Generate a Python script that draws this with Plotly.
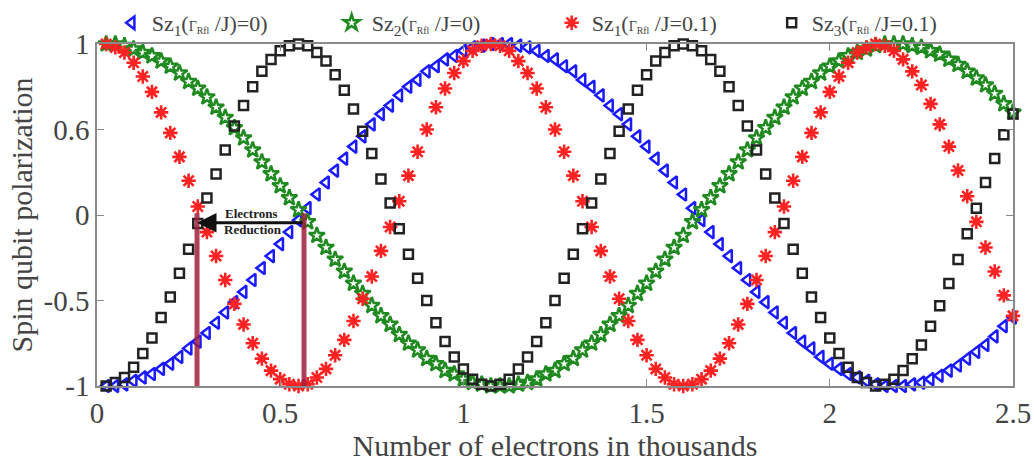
import plotly.graph_objects as go

# Number of electrons (thousands)
x_vals = [round(0.025 * k, 3) for k in range(1, 101)]

sz1_g0 = [-1.00, -1.00, -0.99, -0.97, -0.95, -0.93, -0.90, -0.87, -0.83, -0.78,
          -0.74, -0.69, -0.63, -0.57, -0.51, -0.45, -0.38, -0.31, -0.24, -0.17,
          -0.10, -0.03, 0.04, 0.12, 0.19, 0.26, 0.33, 0.40, 0.46, 0.53,
          0.59, 0.64, 0.70, 0.75, 0.79, 0.84, 0.87, 0.91, 0.93, 0.96,
          0.98, 0.99, 1.00, 1.00, 1.00, 0.99, 0.98, 0.96, 0.93, 0.91,
          0.87, 0.84, 0.79, 0.75, 0.70, 0.64, 0.59, 0.53, 0.46, 0.40,
          0.33, 0.26, 0.19, 0.12, 0.04, -0.03, -0.10, -0.17, -0.24, -0.31,
          -0.38, -0.45, -0.51, -0.57, -0.63, -0.69, -0.74, -0.78, -0.83, -0.87,
          -0.90, -0.93, -0.95, -0.97, -0.99, -1.00, -1.00, -1.00, -0.99, -0.98,
          -0.96, -0.94, -0.91, -0.88, -0.84, -0.80, -0.76, -0.71, -0.65, -0.60]

sz2_g0 = [1.00, 1.00, 0.99, 0.97, 0.95, 0.93, 0.90, 0.87, 0.83, 0.78,
          0.74, 0.69, 0.63, 0.57, 0.51, 0.45, 0.38, 0.31, 0.24, 0.17,
          0.10, 0.03, -0.04, -0.12, -0.19, -0.26, -0.33, -0.40, -0.46, -0.53,
          -0.59, -0.64, -0.70, -0.75, -0.79, -0.84, -0.87, -0.91, -0.93, -0.96,
          -0.98, -0.99, -1.00, -1.00, -1.00, -0.99, -0.98, -0.96, -0.93, -0.91,
          -0.87, -0.84, -0.79, -0.75, -0.70, -0.64, -0.59, -0.53, -0.46, -0.40,
          -0.33, -0.26, -0.19, -0.12, -0.04, 0.03, 0.10, 0.17, 0.24, 0.31,
          0.38, 0.45, 0.51, 0.57, 0.63, 0.69, 0.74, 0.78, 0.83, 0.87,
          0.90, 0.93, 0.95, 0.97, 0.99, 1.00, 1.00, 1.00, 0.99, 0.98,
          0.96, 0.94, 0.91, 0.88, 0.84, 0.80, 0.76, 0.71, 0.65, 0.60]

sz1_g01 = [1.00, 0.98, 0.95, 0.89, 0.81, 0.72, 0.60, 0.48, 0.34, 0.20,
           0.05, -0.10, -0.24, -0.38, -0.52, -0.64, -0.75, -0.84, -0.91, -0.96,
           -0.99, -1.00, -0.99, -0.95, -0.90, -0.82, -0.73, -0.62, -0.49, -0.36,
           -0.21, -0.07, 0.08, 0.23, 0.37, 0.50, 0.63, 0.74, 0.83, 0.90,
           0.96, 0.99, 1.00, 0.99, 0.96, 0.90, 0.83, 0.74, 0.63, 0.50,
           0.37, 0.23, 0.08, -0.07, -0.21, -0.36, -0.49, -0.62, -0.73, -0.82,
           -0.90, -0.95, -0.99, -1.00, -0.99, -0.96, -0.91, -0.84, -0.75, -0.64,
           -0.52, -0.38, -0.24, -0.10, 0.05, 0.20, 0.34, 0.48, 0.60, 0.72,
           0.81, 0.89, 0.95, 0.98, 1.00, 0.99, 0.96, 0.91, 0.84, 0.76,
           0.65, 0.53, 0.40, 0.26, 0.11, -0.04, -0.19, -0.33, -0.47, -0.59]

sz3_g01 = [-1.00, -0.98, -0.95, -0.89, -0.81, -0.72, -0.60, -0.48, -0.34, -0.20,
           -0.05, 0.10, 0.24, 0.38, 0.52, 0.64, 0.75, 0.84, 0.91, 0.96,
           0.99, 1.00, 0.99, 0.95, 0.90, 0.82, 0.73, 0.62, 0.49, 0.36,
           0.21, 0.07, -0.08, -0.23, -0.37, -0.50, -0.63, -0.74, -0.83, -0.90,
           -0.96, -0.99, -1.00, -0.99, -0.96, -0.90, -0.83, -0.74, -0.63, -0.50,
           -0.37, -0.23, -0.08, 0.07, 0.21, 0.36, 0.49, 0.62, 0.73, 0.82,
           0.90, 0.95, 0.99, 1.00, 0.99, 0.96, 0.91, 0.84, 0.75, 0.64,
           0.52, 0.38, 0.24, 0.10, -0.05, -0.20, -0.34, -0.48, -0.60, -0.72,
           -0.81, -0.89, -0.95, -0.98, -1.00, -0.99, -0.96, -0.91, -0.84, -0.76,
           -0.65, -0.53, -0.40, -0.26, -0.11, 0.04, 0.19, 0.33, 0.47, 0.59]

y_tick_vals = [-1, -0.5, 0, 0.5, 1]
y_tick_text = ["-1", "-0.5", "0", "0.6", "1"]
x_tick_vals = [0, 0.5, 1, 1.5, 2, 2.5]
x_tick_text = ["0", "0.5", "1", "1.5", "2", "2.5"]

reduction_x = [0.273, 0.565]   # marked electron counts (thousands)

names = [
    "Sz<sub>1</sub>(<span style='font-size:14px'>Γ<sub>Rfl</sub></span> /J)=0)",
    "Sz<sub>2</sub>(<span style='font-size:14px'>Γ<sub>Rfl</sub></span> /J=0)",
    "Sz<sub>1</sub>(<span style='font-size:14px'>Γ<sub>Rfl</sub></span> /J=0.1)",
    "Sz<sub>3</sub>(<span style='font-size:14px'>Γ<sub>Rfl</sub></span> /J=0.1)",
]

FONT = "Liberation Serif"
TXT = "#444444"

fig = go.Figure()
fig.add_trace(go.Scatter(x=x_vals, y=sz1_g0, mode="markers", name=names[0], cliponaxis=False,
                         marker=dict(symbol="triangle-left-open", size=11, color="#1a1aff",
                                     line=dict(width=2.5, color="#1a1aff"))))
fig.add_trace(go.Scatter(x=x_vals, y=sz2_g0, mode="markers", name=names[1], cliponaxis=False,
                         marker=dict(symbol="star-open", size=12, color="#1f8a1f",
                                     line=dict(width=2.5, color="#1f8a1f"))))
fig.add_trace(go.Scatter(x=x_vals, y=sz1_g01, mode="markers", name=names[2], cliponaxis=False,
                         marker=dict(symbol="asterisk-open", size=12, color="#ff2222",
                                     line=dict(width=2.6, color="#ff2222"))))
fig.add_trace(go.Scatter(x=x_vals, y=sz3_g01, mode="markers", name=names[3], cliponaxis=False,
                         marker=dict(symbol="square-open", size=9, color="#222222",
                                     line=dict(width=2.5, color="#222222"))))

for xv in reduction_x:
    fig.add_shape(type="line", x0=xv, x1=xv, y0=-1, y1=0.01, xref="x", yref="y",
                  line=dict(color="rgba(160,30,60,0.85)", width=5))

fig.add_annotation(x=reduction_x[0], y=-0.045, ax=reduction_x[1], ay=-0.045,
                   xref="x", yref="y", axref="x", ayref="y", text="",
                   showarrow=True, arrowhead=2, arrowsize=1.3, arrowwidth=3, arrowcolor="#111111")
fig.add_annotation(x=0.42, y=0.01, xref="x", yref="y", text="<b>Electrons</b>", showarrow=False,
                   font=dict(family=FONT, size=13, color="#222222"))
fig.add_annotation(x=0.425, y=-0.085, xref="x", yref="y", text="<b>Reduction</b>", showarrow=False,
                   font=dict(family=FONT, size=13, color="#222222"))

axis_common = dict(showline=True, linecolor="#8a8a8a", linewidth=1.5, mirror="ticks",
                   ticks="inside", ticklen=7, tickcolor="#8a8a8a", showgrid=False, zeroline=False,
                   ticklabeloverflow="allow",
                   tickfont=dict(family=FONT, size=29, color=TXT))

fig.update_xaxes(range=[0, 2.5], tickvals=x_tick_vals, ticktext=x_tick_text,
                 title=dict(text="Number of electrons in thousands", font=dict(family=FONT, size=30, color=TXT),
                            standoff=0),
                 **axis_common)
fig.update_yaxes(range=[-1, 1], tickvals=y_tick_vals, ticktext=y_tick_text,
                 title=dict(text="Spin qubit polarization", font=dict(family=FONT, size=30, color=TXT),
                            standoff=2),
                 **axis_common)

fig.update_layout(
    width=1034, height=464,
    margin=dict(l=97, r=21, t=44, b=78, autoexpand=False),
    paper_bgcolor="white", plot_bgcolor="white",
    font=dict(family=FONT, color=TXT),
    legend=dict(orientation="h", x=0.016, xanchor="left", y=1.0, yanchor="bottom",
                entrywidth=175, entrywidthmode="pixels",
                font=dict(family=FONT, size=22, color=TXT), bgcolor="rgba(0,0,0,0)"),
)

# remove the page's default 8px body margin so the figure fills the window exactly
fig.write_html("out.html", config={"displayModeBar": False},
               post_script="document.body.style.margin='0';document.body.style.overflow='hidden';")
